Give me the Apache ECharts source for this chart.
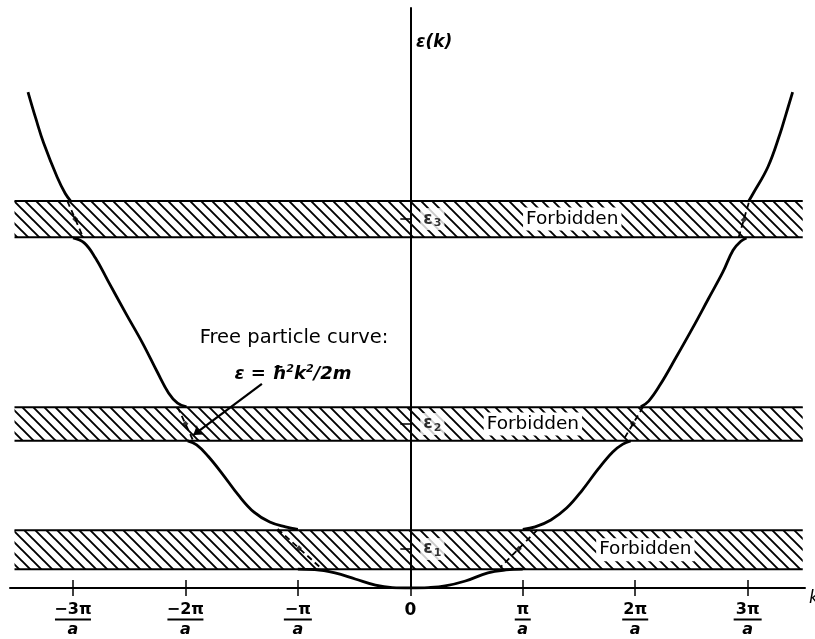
<!DOCTYPE html>
<html>
<head>
<meta charset="utf-8">
<script src="https://cdn.jsdelivr.net/npm/echarts@6/dist/echarts.min.js"></script>
<style>
html,body{margin:0;padding:0;background:#fff;}
#chart{width:815px;height:639px;}
</style>
</head>
<body>
<div id="chart"></div>
<script>
// k in units of pi/a, energy in arbitrary units (free-particle value near k = 1 is ~1)
const kTicks = [-3, -2, -1, 0, 1, 2, 3];
const kTickNumerators = ['−3π', '−2π', '−π', '0', 'π', '2π', '3π'];
const kTickDenominator = 'a';

// Gap-centre energies ε1, ε2, ε3
const levelValues = [0.95, 4.0, 9.0];
const levelNames = ['1', '2', '3'];

// Forbidden gaps: lower and upper edge energies
const gapLower = [0.46, 3.59, 8.56];
const gapUpper = [1.41, 4.41, 9.44];
const gapKRange = [-3.52, 3.49];
const gapText = 'Forbidden';

// Allowed branches of ε(k)
const branch0 = [[-1.00,0.46],[-0.85,0.45],[-0.67,0.37],[-0.49,0.22],[-0.31,0.07],[-0.16,0.01],[0,0],[0.16,0.01],[0.31,0.05],[0.49,0.17],[0.69,0.37],[0.85,0.44],[1.00,0.46]];
const branch1Left = [[-1.98,3.59],[-1.90,3.49],[-1.80,3.22],[-1.67,2.78],[-1.53,2.27],[-1.39,1.85],[-1.25,1.61],[-1.11,1.49],[-1.00,1.43]];
const branch1Right = [[1.00,1.43],[1.11,1.49],[1.25,1.66],[1.39,1.95],[1.53,2.39],[1.67,2.90],[1.80,3.32],[1.89,3.51],[1.96,3.59]];
const branch2Left = [[-3.00,8.54],[-2.90,8.42],[-2.80,8.05],[-2.69,7.50],[-2.53,6.70],[-2.38,5.97],[-2.25,5.27],[-2.15,4.76],[-2.07,4.51],[-1.99,4.42]];
const branch2Right = [[2.05,4.42],[2.12,4.56],[2.22,4.95],[2.36,5.61],[2.51,6.34],[2.65,7.05],[2.78,7.71],[2.87,8.24],[2.94,8.46],[2.99,8.54]];
const branch3Left = [[-3.40,12.10],[-3.33,11.45],[-3.26,10.85],[-3.14,10.02],[-3.07,9.63],[-3.02,9.44]];
const branch3Right = [[3.01,9.44],[3.05,9.63],[3.18,10.27],[3.29,11.10],[3.34,11.55],[3.40,12.10]];

// Free-particle parabola where it runs through the gaps
const freeCross = [
  [[-1.18,1.44],[-0.80,0.50]],
  [[1.13,1.42],[0.80,0.50]],
  [[-2.07,4.42],[-1.93,3.59]],
  [[2.07,4.42],[1.89,3.59]],
  [[-3.05,9.44],[-2.91,8.56]],
  [[3.01,9.40],[2.92,8.56]]
];

// Pointer for the free-particle note
const arrowFrom = [-1.32, 4.98];
const arrowTo = [-1.93, 3.73];

const FONT = '"DejaVu Sans", "Liberation Sans", sans-serif';

// Placement of the "Forbidden" captions along k, one per gap
const gapCaptionK = [2.09, 1.09, 1.44];

function makeHatch() {
  const s = 11;
  const c = document.createElement('canvas');
  c.width = s; c.height = s;
  const g = c.getContext('2d');
  g.strokeStyle = '#000';
  g.lineWidth = 1.9;
  g.beginPath();
  g.moveTo(-2, -2); g.lineTo(s + 2, s + 2);
  g.moveTo(s - 2, -2); g.lineTo(s + 2, 2);
  g.moveTo(-2, s - 2); g.lineTo(2, s + 2);
  g.stroke();
  return c;
}
const hatch = { image: makeHatch(), repeat: 'repeat' };

const gapData = gapLower.map((lo, i) => [lo, gapUpper[i]]);

function renderGap(params, api) {
  const lo = api.value(0), hi = api.value(1);
  const p0 = api.coord([gapKRange[0], hi]);
  const p1 = api.coord([gapKRange[1], lo]);
  const lp = api.coord([gapCaptionK[params.dataIndex], (lo + hi) / 2]);
  return {
    type: 'group',
    children: [
      { type: 'rect', shape: { x: p0[0], y: p0[1], width: p1[0] - p0[0], height: p1[1] - p0[1] }, style: { fill: hatch } },
      { type: 'line', shape: { x1: p0[0], y1: p0[1], x2: p1[0], y2: p0[1] }, style: { stroke: '#000', lineWidth: 2 } },
      { type: 'line', shape: { x1: p0[0], y1: p1[1], x2: p1[0], y2: p1[1] }, style: { stroke: '#000', lineWidth: 2 } },
      { type: 'text', x: lp[0], y: lp[1], z2: 10,
        style: { text: gapText, fill: '#000', font: '18.5px ' + FONT, align: 'center', verticalAlign: 'middle',
                 backgroundColor: '#fff', padding: [2, 3] } }
    ]
  };
}

const branchStyle = { color: '#000', width: 2.8 };
function branchSeries(data) {
  return { type: 'line', data: data, smooth: 0.4, symbol: 'none', z: 5,
           lineStyle: branchStyle, silent: true };
}

const freeSeries = freeCross.map(seg => ({
  type: 'line', data: seg, symbol: 'none', z: 4, silent: true,
  lineStyle: { color: '#000', width: 1.8, type: [6, 4] }
}));
const freeMid = freeCross.map(seg => [(seg[0][0] + seg[1][0]) / 2, (seg[0][1] + seg[1][1]) / 2]);

const barStyle = w => ({ width: w, height: 2, lineHeight: 5, backgroundColor: '#000' });
const barKey = { '-3': 'b36', '-2': 'b36', '-1': 'b28', '1': 'b16', '2': 'b26', '3': 'b28' };

const chart = echarts.init(document.getElementById('chart'), null, { renderer: 'canvas' });
chart.setOption({
  animation: false,
  backgroundColor: '#fff',
  grid: { left: 10, right: 10, top: 8, bottom: 51, outerBoundsMode: 'none', containLabel: false },
  xAxis: [{
    type: 'value', min: -3.56, max: 3.51, position: 'bottom', z: 6,
    name: 'k', nameLocation: 'end', nameGap: 4,
    nameTextStyle: { fontFamily: FONT, fontSize: 17, fontStyle: 'italic', color: '#000', verticalAlign: 'top', padding: [2, 0, 0, 0] },
    axisLine: { onZero: true, lineStyle: { color: '#000', width: 2 } },
    splitLine: { show: false },
    axisTick: { customValues: kTicks, length: 8, lineStyle: { color: '#000', width: 1.5 } },
    axisLabel: {
      customValues: kTicks, margin: 14, color: '#000',
      formatter: function (v) {
        const i = kTicks.indexOf(v);
        if (v === 0) return '{z|' + kTickNumerators[i] + '}';
        return '{n|' + kTickNumerators[i] + '}\n{' + barKey[String(v)] + '| }\n{d|' + kTickDenominator + '}';
      },
      rich: {
        z: { fontFamily: FONT, fontSize: 17, fontWeight: 'bold', lineHeight: 17 },
        n: { fontFamily: FONT, fontSize: 16, fontWeight: 'bold', lineHeight: 15 },
        d: { fontFamily: FONT, fontSize: 16, fontWeight: 'bold', fontStyle: 'italic', lineHeight: 15 },
        b36: barStyle(36), b28: barStyle(28), b26: barStyle(26), b16: barStyle(16)
      }
    }
  }, {
    type: 'value', min: -3.56, max: 3.51, position: 'bottom', z: 6,
    axisLine: { show: false },
    splitLine: { show: false },
    axisTick: { customValues: kTicks, inside: true, length: 8, lineStyle: { color: '#000', width: 1.5 } },
    axisLabel: { show: false }
  }],
  yAxis: {
    type: 'value', min: 0, max: 14.15, z: 6,
    axisLine: { show: true, onZero: true, lineStyle: { color: '#000', width: 2 } },
    splitLine: { show: false },
    axisTick: { show: true, customValues: levelValues, length: 10, lineStyle: { color: '#000', width: 1.5 } },
    axisLabel: { show: false }
  },
  graphic: [
    { type: 'text', left: 416, top: 34, z: 20,
      style: { text: 'ε(k)', font: 'italic bold 17px ' + FONT, fill: '#000' } },
    { type: 'text', x: 294, y: 338, z: 20,
      style: { text: 'Free particle curve:', font: '19.5px ' + FONT, fill: '#000', align: 'center', verticalAlign: 'middle' } },
    { type: 'text', x: 293, y: 374, z: 20,
      style: {
        text: '{i|ε = ħ}{p|2}{i|k}{p|2}{i|/2m}', align: 'center', verticalAlign: 'middle', fill: '#000',
        rich: {
          i: { font: 'italic bold 18px ' + FONT },
          p: { font: 'italic bold 11px ' + FONT, padding: [0, 0, 9, 0] }
        }
      } }
  ],
  series: [
    { type: 'custom', renderItem: renderGap, data: gapData, z: 1, silent: true, clip: false },
    branchSeries(branch0),
    branchSeries(branch1Left), branchSeries(branch1Right),
    branchSeries(branch2Left), branchSeries(branch2Right),
    branchSeries(branch3Left), branchSeries(branch3Right),
    ...freeSeries,
    { type: 'scatter', data: freeMid, symbol: 'diamond', symbolSize: 6, z: 5, silent: true,
      itemStyle: { color: '#000' } },
    // ε1..ε3 labels beside the energy axis
    { type: 'scatter', data: levelValues.map(v => [0, v]), symbolSize: 0, z: 7, silent: true,
      label: {
        show: true, position: 'right', distance: 10, color: '#000',
        backgroundColor: '#fff', padding: [1, 3],
        formatter: p => '{e|ε}{s|' + levelNames[p.dataIndex] + '}',
        rich: {
          e: { fontFamily: FONT, fontSize: 17, fontWeight: 'bold' },
          s: { fontFamily: FONT, fontSize: 11, fontWeight: 'bold', padding: [9, 0, 0, 1] }
        }
      } },
    { type: 'lines', coordinateSystem: 'cartesian2d', z: 6, silent: true,
      symbol: ['none', 'arrow'], symbolSize: 9,
      lineStyle: { color: '#000', width: 2.2, opacity: 1 },
      data: [{ coords: [arrowFrom, arrowTo] }] }
  ]
});
</script>
</body>
</html>
